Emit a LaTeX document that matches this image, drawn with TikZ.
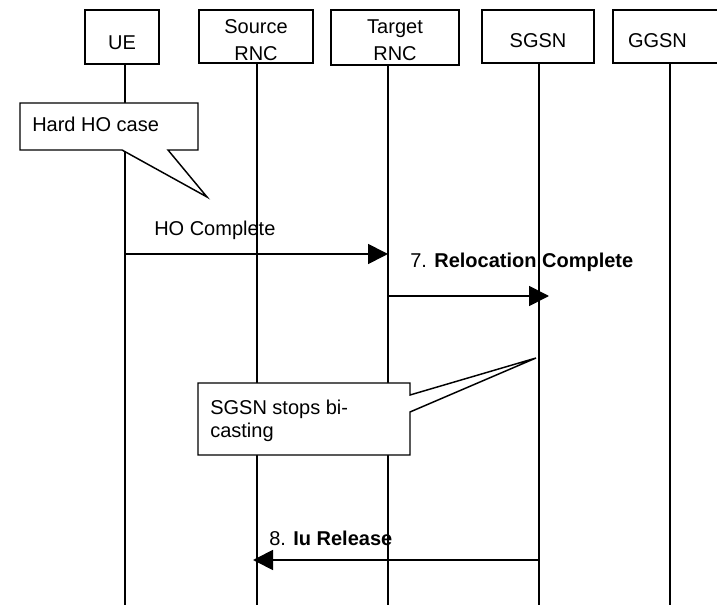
\documentclass[tikz,border=0pt]{standalone}
\usepackage{fontspec}
\setmainfont{Liberation Sans}
\usetikzlibrary{arrows.meta}
\newcommand\myStrut[1]{\rule{0pt}{#1}}
\begin{document}
\begin{tikzpicture}[x=0.75pt,y=-0.75pt,
  every node/.style={font=\fontsize{15}{20.25}\selectfont},
  box/.style={draw,line width=1.5pt,fill=white,align=center,inner sep=0pt},
  life/.style={line width=1.5pt},
  callout/.style={draw,fill=white,line width=1.1pt,line join=miter},
  msg/.style={line width=1.3pt,-{Triangle[length=15pt,width=15pt]}},
  txt/.style={anchor=base west,inner sep=0pt}]
\path[fill=white] (0,0) rectangle (717,605);
\useasboundingbox (0,0) rectangle (717,605);

% entity boxes
\node[box,minimum width=55.5pt,minimum height=40.5pt] (ue) at (122,37) {\myStrut{18.4pt}UE};
\node[box,minimum width=85.5pt,minimum height=39.75pt] (src) at (256,36.5) {\myStrut{16.2pt}Source\\RNC};
\node[box,minimum width=96pt,minimum height=41.25pt] (tgt) at (395,37.5) {\myStrut{14.5pt}Target\\RNC};
\node[box,minimum width=84pt,minimum height=39.75pt] (sgsn) at (538,36.5) {\myStrut{16.1pt}SGSN};
\node[box,minimum width=78.75pt,minimum height=39.75pt,text width=56.25pt,align=left,inner xsep=11.25pt] (ggsn) at (665.5,36.5) {\myStrut{16.1pt}GGSN};

% lifelines
\coordinate (ueEnd) at (125,607);
\coordinate (srcEnd) at (257,607);
\coordinate (tgtEnd) at (388,607);
\coordinate (sgsnEnd) at (539,607);
\coordinate (ggsnEnd) at (670,607);
\draw[life] (ueEnd |- ue.south) -- (ueEnd);
\draw[life] (srcEnd |- src.south) -- (srcEnd);
\draw[life] (tgtEnd |- tgt.south) -- (tgtEnd);
\draw[life] (sgsnEnd |- sgsn.south) -- (sgsnEnd);
\draw[life] (ggsnEnd |- ggsn.south) -- (ggsnEnd);

% callout 1
\path[callout] (20,103) -- (198,103) -- (198,150) -- (168,150) -- (207,197) -- (122,150) -- (20,150) -- cycle;
\node[txt] (hard) at (32,132) {Hard HO case};

% messages
\coordinate (m1s) at (125,254);
\coordinate (m1e) at (388,254);
\draw[msg] (m1s) -- (m1e);
\node[txt] (m1l) at (154,236) {HO Complete};

\coordinate (m2s) at (388,296);
\coordinate (m2e) at (549,296);
\draw[msg] (m2s) -- (m2e);
\node[txt] (m2l) at (410,268) {7. \textbf{Relocation Complete}};

% callout 2
\path[callout] (198,383) -- (410,383) -- (410,395) -- (536,358) -- (410,412) -- (410,455) -- (198,455) -- cycle;
\node[txt] (bc1) at (210,415) {SGSN stops bi-};
\node[txt] (bc2) at (210,438) {casting};

\coordinate (m3s) at (539,560);
\coordinate (m3e) at (253,560);
\draw[msg] (m3s) -- (m3e);
\node[txt] (m3l) at (269,545) {8. \textbf{Iu Release}};
\end{tikzpicture}
\end{document}
